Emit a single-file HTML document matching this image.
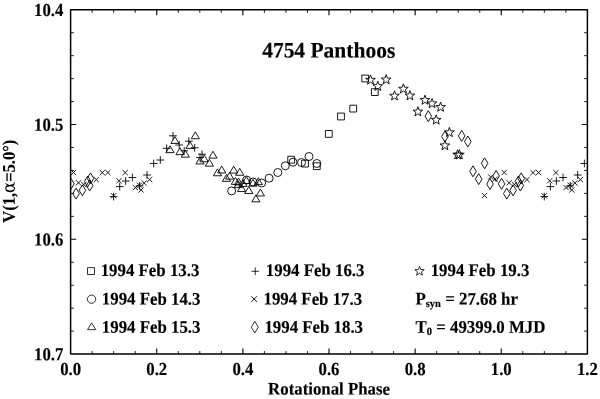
<!DOCTYPE html>
<html><head><meta charset="utf-8"><title>4754 Panthoos</title>
<style>
html,body{margin:0;padding:0;background:#fff;}
body{width:600px;height:399px;overflow:hidden;}
svg{display:block;}
text{font-family:"Liberation Serif","Times New Roman",serif;font-weight:bold;fill:#000;stroke:#000;stroke-width:0.15px;}
.t{font-size:16.85px;}
.lab{font-size:16.75px;}
.sym{font-weight:normal;stroke:none;font-family:"DejaVu Serif","Liberation Serif",serif;font-size:16.5px;}
</style></head><body>
<svg width="600" height="399" viewBox="0 0 600 399">
<rect width="600" height="399" fill="#fff"/>
<defs><clipPath id="c"><rect x="70.6" y="9.75" width="516.8" height="344.35"/></clipPath></defs>
<g clip-path="url(#c)" fill="none" stroke="#000" stroke-width="0.9">
<path d="M70.9 169.9l5.2 5.2M70.9 175.1l5.2 -5.2M501.57 169.9l5.2 5.2M501.57 175.1l5.2 -5.2M75.9 180.2l5.2 5.2M75.9 185.4l5.2 -5.2M506.57 180.2l5.2 5.2M506.57 185.4l5.2 -5.2M81.1 181.9l5.2 5.2M81.1 187.1l5.2 -5.2M511.77 181.9l5.2 5.2M511.77 187.1l5.2 -5.2M93.7 177l5.2 5.2M93.7 182.2l5.2 -5.2M524.37 177l5.2 5.2M524.37 182.2l5.2 -5.2M99.7 170l5.2 5.2M99.7 175.2l5.2 -5.2M530.37 170l5.2 5.2M530.37 175.2l5.2 -5.2M105.3 170l5.2 5.2M105.3 175.2l5.2 -5.2M535.97 170l5.2 5.2M535.97 175.2l5.2 -5.2M111 193.2l5.2 5.2M111 198.4l5.2 -5.2M541.67 193.2l5.2 5.2M541.67 198.4l5.2 -5.2M116.4 178.2l5.2 5.2M116.4 183.4l5.2 -5.2M547.07 178.2l5.2 5.2M547.07 183.4l5.2 -5.2M122.6 170l5.2 5.2M122.6 175.2l5.2 -5.2M553.27 170l5.2 5.2M553.27 175.2l5.2 -5.2M132.8 185l5.2 5.2M132.8 190.2l5.2 -5.2M563.47 185l5.2 5.2M563.47 190.2l5.2 -5.2M136.8 182.6l5.2 5.2M136.8 187.8l5.2 -5.2M567.47 182.6l5.2 5.2M567.47 187.8l5.2 -5.2M138.5 187.4l5.2 5.2M138.5 192.6l5.2 -5.2M569.17 187.4l5.2 5.2M569.17 192.6l5.2 -5.2M141.6 180.4l5.2 5.2M141.6 185.6l5.2 -5.2M572.27 180.4l5.2 5.2M572.27 185.6l5.2 -5.2M147.1 177l5.2 5.2M147.1 182.2l5.2 -5.2M577.77 177l5.2 5.2M577.77 182.2l5.2 -5.2M481.9 193l5.2 5.2M481.9 198.2l5.2 -5.2M488.1 174.4l5.2 5.2M488.1 179.6l5.2 -5.2M492.4 176.6l5.2 5.2M492.4 181.8l5.2 -5.2"/>
<path d="M109.75 196.6h7.7M113.6 192.75v7.7M540.42 196.6h7.7M544.27 192.75v7.7M115.85 186.6h7.7M119.7 182.75v7.7M546.52 186.6h7.7M550.37 182.75v7.7M121.85 181h7.7M125.7 177.15v7.7M552.52 181h7.7M556.37 177.15v7.7M128.55 177.5h7.7M132.4 173.65v7.7M559.22 177.5h7.7M563.07 173.65v7.7M135.75 185.8h7.7M139.6 181.95v7.7M566.42 185.8h7.7M570.27 181.95v7.7M143.15 175h7.7M147 171.15v7.7M573.82 175h7.7M577.67 171.15v7.7M149.85 163.5h7.7M153.7 159.65v7.7M580.52 163.5h7.7M584.37 159.65v7.7M156.45 160h7.7M160.3 156.15v7.7M587.12 160h7.7M590.97 156.15v7.7M162.85 148.3h7.7M166.7 144.45v7.7M169.15 135.8h7.7M173 131.95v7.7M175.35 145h7.7M179.2 141.15v7.7M180.35 150.8h7.7M184.2 146.95v7.7M184.95 141.2h7.7M188.8 137.35v7.7M190.85 147.8h7.7M194.7 143.95v7.7M196.15 157.5h7.7M200 153.65v7.7M198.15 154.2h7.7M202 150.35v7.7"/>
<path d="M70.9 178.3l3.3 5.5l-3.3 5.5l-3.3 -5.5zM501.57 178.3l3.3 5.5l-3.3 5.5l-3.3 -5.5zM76.1 188.1l3.3 5.5l-3.3 5.5l-3.3 -5.5zM506.77 188.1l3.3 5.5l-3.3 5.5l-3.3 -5.5zM82.4 184.8l3.3 5.5l-3.3 5.5l-3.3 -5.5zM513.07 184.8l3.3 5.5l-3.3 5.5l-3.3 -5.5zM87.7 176l3.3 5.5l-3.3 5.5l-3.3 -5.5zM518.37 176l3.3 5.5l-3.3 5.5l-3.3 -5.5zM89.7 180l3.3 5.5l-3.3 5.5l-3.3 -5.5zM520.37 180l3.3 5.5l-3.3 5.5l-3.3 -5.5zM90.5 172.9l3.3 5.5l-3.3 5.5l-3.3 -5.5zM521.17 172.9l3.3 5.5l-3.3 5.5l-3.3 -5.5zM428.3 110.7l3.3 5.5l-3.3 5.5l-3.3 -5.5zM444.9 131l3.3 5.5l-3.3 5.5l-3.3 -5.5zM461.7 130.4l3.3 5.5l-3.3 5.5l-3.3 -5.5zM467.8 136l3.3 5.5l-3.3 5.5l-3.3 -5.5zM484.6 157.8l3.3 5.5l-3.3 5.5l-3.3 -5.5zM473 165.8l3.3 5.5l-3.3 5.5l-3.3 -5.5zM478.7 173.6l3.3 5.5l-3.3 5.5l-3.3 -5.5zM496.1 170.4l3.3 5.5l-3.3 5.5l-3.3 -5.5zM490 178.5l3.3 5.5l-3.3 5.5l-3.3 -5.5z"/>
<path d="M195.3 131.85l4.1 6.9h-8.2zM175 136.55l4.1 6.9h-8.2zM170 145.75l4.1 6.9h-8.2zM180 147.75l4.1 6.9h-8.2zM190 141.55l4.1 6.9h-8.2zM185.3 150.25l4.1 6.9h-8.2zM213 151.25l4.1 6.9h-8.2zM204.2 154.85l4.1 6.9h-8.2zM200 157.05l4.1 6.9h-8.2zM209.4 159.25l4.1 6.9h-8.2zM221.7 166.05l4.1 6.9h-8.2zM217.5 168.85l4.1 6.9h-8.2zM233.7 166.15l4.1 6.9h-8.2zM239.7 168.35l4.1 6.9h-8.2zM229.6 172.25l4.1 6.9h-8.2zM226.5 174.45l4.1 6.9h-8.2zM235.4 177.45l4.1 6.9h-8.2zM238.3 180.75l4.1 6.9h-8.2zM241.6 184.65l4.1 6.9h-8.2zM248.8 186.55l4.1 6.9h-8.2zM260.4 189.05l4.1 6.9h-8.2zM255.9 194.95l4.1 6.9h-8.2zM258.4 177.75l4.1 6.9h-8.2zM253 179.25l4.1 6.9h-8.2zM246.4 176.55l4.1 6.9h-8.2zM238.5 178.05l4.1 6.9h-8.2zM243 179.55l4.1 6.9h-8.2z"/>
<path d="M287.8 156.3h6.8v6.8h-6.8zM301.6 160.2h6.8v6.8h-6.8zM313.4 162.8h6.8v6.8h-6.8zM325.4 130.5h6.8v6.8h-6.8zM337.6 113.1h6.8v6.8h-6.8zM349.8 105.2h6.8v6.8h-6.8zM361.8 75.1h6.8v6.8h-6.8zM371.4 88.7h6.8v6.8h-6.8z"/>
<circle cx="231.6" cy="190.9" r="4"/>
<circle cx="246.6" cy="180" r="4"/>
<circle cx="253" cy="182" r="4"/>
<circle cx="261.6" cy="183" r="4"/>
<circle cx="269.1" cy="178.2" r="4"/>
<circle cx="277.8" cy="172.5" r="4"/>
<circle cx="285.3" cy="165.8" r="4"/>
<circle cx="293" cy="162.2" r="4"/>
<circle cx="301.5" cy="162.5" r="4"/>
<circle cx="309" cy="156.5" r="4"/>
<circle cx="316.8" cy="163.5" r="4"/>
<polygon points="370.5,74.9 371.73,78.3 375.35,78.42 372.5,80.65 373.5,84.13 370.5,82.1 367.5,84.13 368.5,80.65 365.65,78.42 369.27,78.3"/>
<polygon points="377.8,81.2 379.03,84.6 382.65,84.72 379.8,86.95 380.8,90.43 377.8,88.4 374.8,90.43 375.8,86.95 372.95,84.72 376.57,84.6"/>
<polygon points="386.2,74.6 387.43,78 391.05,78.12 388.2,80.35 389.2,83.83 386.2,81.8 383.2,83.83 384.2,80.35 381.35,78.12 384.97,78"/>
<polygon points="403.4,83.8 404.63,87.2 408.25,87.32 405.4,89.55 406.4,93.03 403.4,91 400.4,93.03 401.4,89.55 398.55,87.32 402.17,87.2"/>
<polygon points="394.5,90.8 395.73,94.2 399.35,94.32 396.5,96.55 397.5,100.03 394.5,98 391.5,100.03 392.5,96.55 389.65,94.32 393.27,94.2"/>
<polygon points="409.9,90.6 411.13,94 414.75,94.12 411.9,96.35 412.9,99.83 409.9,97.8 406.9,99.83 407.9,96.35 405.05,94.12 408.67,94"/>
<polygon points="425,95.1 426.23,98.5 429.85,98.62 427,100.85 428,104.33 425,102.3 422,104.33 423,100.85 420.15,98.62 423.77,98.5"/>
<polygon points="432,98.5 433.23,101.9 436.85,102.02 434,104.25 435,107.73 432,105.7 429,107.73 430,104.25 427.15,102.02 430.77,101.9"/>
<polygon points="440.6,102.1 441.83,105.5 445.45,105.62 442.6,107.85 443.6,111.33 440.6,109.3 437.6,111.33 438.6,107.85 435.75,105.62 439.37,105.5"/>
<polygon points="417.9,106.7 419.13,110.1 422.75,110.22 419.9,112.45 420.9,115.93 417.9,113.9 414.9,115.93 415.9,112.45 413.05,110.22 416.67,110.1"/>
<polygon points="436.2,114.9 437.43,118.3 441.05,118.42 438.2,120.65 439.2,124.13 436.2,122.1 433.2,124.13 434.2,120.65 431.35,118.42 434.97,118.3"/>
<polygon points="449.4,127.4 450.63,130.8 454.25,130.92 451.4,133.15 452.4,136.63 449.4,134.6 446.4,136.63 447.4,133.15 444.55,130.92 448.17,130.8"/>
<polygon points="444.9,140.5 446.13,143.9 449.75,144.02 446.9,146.25 447.9,149.73 444.9,147.7 441.9,149.73 442.9,146.25 440.05,144.02 443.67,143.9"/>
<polygon points="457.6,149.7 458.83,153.1 462.45,153.22 459.6,155.45 460.6,158.93 457.6,156.9 454.6,158.93 455.6,155.45 452.75,153.22 456.37,153.1"/>
<polygon points="459.4,149.7 460.63,153.1 464.25,153.22 461.4,155.45 462.4,158.93 459.4,156.9 456.4,158.93 457.4,155.45 454.55,153.22 458.17,153.1"/>
</g>
<path d="M156.73 354.1v-5.6M156.73 9.75v5.6M242.87 354.1v-5.6M242.87 9.75v5.6M329 354.1v-5.6M329 9.75v5.6M415.13 354.1v-5.6M415.13 9.75v5.6M501.27 354.1v-5.6M501.27 9.75v5.6M70.6 124.53h5.6M587.4 124.53h-5.6M70.6 239.32h5.6M587.4 239.32h-5.6" stroke="#000" stroke-width="1.1" fill="none"/>
<path d="M92.13 354.1v-3M92.13 9.75v3M113.67 354.1v-3M113.67 9.75v3M135.2 354.1v-3M135.2 9.75v3M178.27 354.1v-3M178.27 9.75v3M199.8 354.1v-3M199.8 9.75v3M221.33 354.1v-3M221.33 9.75v3M264.4 354.1v-3M264.4 9.75v3M285.93 354.1v-3M285.93 9.75v3M307.47 354.1v-3M307.47 9.75v3M350.53 354.1v-3M350.53 9.75v3M372.07 354.1v-3M372.07 9.75v3M393.6 354.1v-3M393.6 9.75v3M436.67 354.1v-3M436.67 9.75v3M458.2 354.1v-3M458.2 9.75v3M479.73 354.1v-3M479.73 9.75v3M522.8 354.1v-3M522.8 9.75v3M544.33 354.1v-3M544.33 9.75v3M565.87 354.1v-3M565.87 9.75v3M70.6 32.71h3.2M587.4 32.71h-3.2M70.6 55.66h3.2M587.4 55.66h-3.2M70.6 78.62h3.2M587.4 78.62h-3.2M70.6 101.58h3.2M587.4 101.58h-3.2M70.6 147.49h3.2M587.4 147.49h-3.2M70.6 170.45h3.2M587.4 170.45h-3.2M70.6 193.4h3.2M587.4 193.4h-3.2M70.6 216.36h3.2M587.4 216.36h-3.2M70.6 262.27h3.2M587.4 262.27h-3.2M70.6 285.23h3.2M587.4 285.23h-3.2M70.6 308.19h3.2M587.4 308.19h-3.2M70.6 331.14h3.2M587.4 331.14h-3.2" stroke="#000" stroke-width="0.9" fill="none"/>
<rect x="70.6" y="9.75" width="516.8" height="344.35" fill="none" stroke="#000" stroke-width="1.5" stroke-linejoin="round"/>
<g class="lab">
<text transform="translate(70.6,375) rotate(0.03) scale(1,1.095)" text-anchor="middle">0.0</text>
<text transform="translate(156.73,375) rotate(0.03) scale(1,1.095)" text-anchor="middle">0.2</text>
<text transform="translate(242.87,375) rotate(0.03) scale(1,1.095)" text-anchor="middle">0.4</text>
<text transform="translate(329,375) rotate(0.03) scale(1,1.095)" text-anchor="middle">0.6</text>
<text transform="translate(415.13,375) rotate(0.03) scale(1,1.095)" text-anchor="middle">0.8</text>
<text transform="translate(501.27,375) rotate(0.03) scale(1,1.095)" text-anchor="middle">1.0</text>
<text transform="translate(587.4,375) rotate(0.03) scale(1,1.095)" text-anchor="middle">1.2</text>
<text transform="translate(63.4,15.95) rotate(0.03) scale(1,1.095)" text-anchor="end">10.4</text>
<text transform="translate(63.4,130.73) rotate(0.03) scale(1,1.095)" text-anchor="end">10.5</text>
<text transform="translate(63.4,245.52) rotate(0.03) scale(1,1.095)" text-anchor="end">10.6</text>
<text transform="translate(63.4,360.3) rotate(0.03) scale(1,1.095)" text-anchor="end">10.7</text>
</g>
<text transform="translate(329,394.6) rotate(0.03) scale(1,1.05)" text-anchor="middle" style="font-size:16.8px">Rotational Phase</text>
<text transform="translate(14.8,181.2) rotate(-89.97) scale(1,1.08)" text-anchor="middle" style="font-size:16.5px">V(1,<tspan class="sym">α</tspan>=5.0°)</text>
<text transform="translate(328.7,57.6) rotate(0.03) scale(1,1.03)" text-anchor="middle" style="font-size:21.5px">4754 Panthoos</text>
<g class="t">
<text transform="translate(100.7,276.0) rotate(0.03) scale(1,1.055)">1994 Feb 13.3</text>
<text transform="translate(101.8,304.6) rotate(0.03) scale(1,1.055)">1994 Feb 14.3</text>
<text transform="translate(101.8,332.7) rotate(0.03) scale(1,1.055)">1994 Feb 15.3</text>
<text transform="translate(265.8,276.0) rotate(0.03) scale(1,1.055)">1994 Feb 16.3</text>
<text transform="translate(263.5,304.6) rotate(0.03) scale(1,1.055)">1994 Feb 17.3</text>
<text transform="translate(264.4,332.7) rotate(0.03) scale(1,1.055)">1994 Feb 18.3</text>
<text transform="translate(430.7,276.0) rotate(0.03) scale(1,1.055)">1994 Feb 19.3</text>
<text transform="translate(415.5,304.6) rotate(0.03) scale(1,1.055)">P<tspan dy="2.2" style="font-size:10.5px">syn</tspan><tspan dy="-2.2"> = 27.68 hr</tspan></text>
<text transform="translate(415.5,332.7) rotate(0.03) scale(1,1.055)">T<tspan dy="2.2" style="font-size:10.5px">0</tspan><tspan dy="-2.2"> = 49399.0 MJD</tspan></text>
</g>
<g fill="none" stroke="#000" stroke-width="0.8">
<rect x="87.6" y="267.7" width="6.8" height="6.8"/>
<circle cx="91.55" cy="299.2" r="4.15"/>
<path d="M91.65 322.9l4.1 6.75h-8.2z"/>
<path d="M251.4 271.3h7.7M255.25 267.4v7.7"/>
<path d="M251.3 296.25l5.7 5.7M251.3 301.95l5.7 -5.7" stroke-width="0.95"/>
<path d="M254.8 321.4l3.5 5.8l-3.5 5.8l-3.5 -5.8z"/>
<polygon points="419.5,266.25 420.7,269.54 424.21,269.67 421.45,271.83 422.41,275.2 419.5,273.25 416.59,275.2 417.55,271.83 414.79,269.67 418.3,269.54"/>
</g>
</svg>
</body></html>
